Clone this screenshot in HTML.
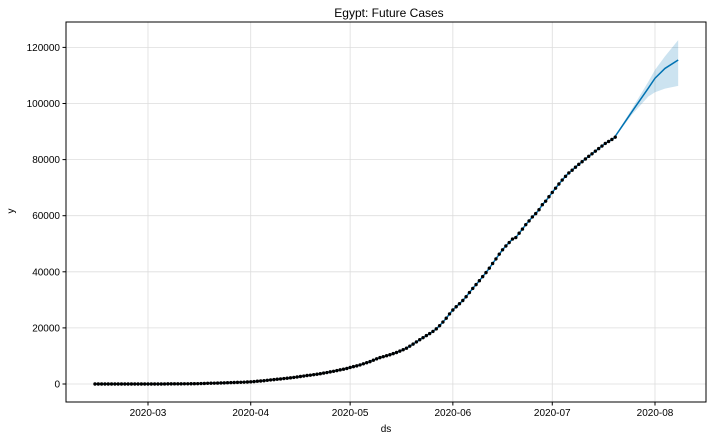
<!DOCTYPE html>
<html><head><meta charset="utf-8"><style>
body{margin:0;background:#fff;}
svg text{font-family:"Liberation Sans",sans-serif;font-size:10px;fill:#000;}
</style></head><body>
<svg id="chart" width="712" height="440">
<text x="389" y="17" text-anchor="middle" style="font-size:12px">Egypt: Future Cases</text>
<g id="grid"></g><g id="band"></g><g id="lines"></g><g id="dots"></g><g id="axes"></g>
<text x="386" y="432" text-anchor="middle">ds</text>
<text x="14" y="211" text-anchor="middle" transform="rotate(-90 14 211)">y</text>
</svg>
<script>
const startDate = "2020-02-14";
const actualCases = [1,1,1,1,1,1,1,1,1,1,1,1,1,1,1,1,
2,2,2,2,3,15,48,49,55,59,60,67,80,93,110,126,166,196,256,285,294,327,366,402,456,495,536,576,609,656,710,
779,865,985,1070,1173,1322,1450,1560,1699,1794,1939,2065,2190,2350,2505,2673,2844,3032,3144,3333,3490,3659,3891,4092,4319,4534,4782,5042,5268,5537,
5895,6193,6465,6813,7201,7588,7981,8476,8964,9400,9746,10093,10431,10829,11228,11719,12229,12764,13484,14229,15003,15786,16513,17265,17967,18756,19666,20793,22082,23449,24985,
26384,27536,28615,29767,31115,32612,34079,35444,36829,38284,39726,41303,42980,44598,46289,47856,49219,50437,51672,52211,53758,55233,56809,58141,59561,60747,62130,63923,65188,66754,
68311,69814,71299,72711,74035,75253,76222,77279,78304,79254,80235,81158,82070,83001,83930,84843,85771,86474,87172,88000];
const forecastDates = ["2020-07-20","2020-07-25","2020-07-30","2020-08-01","2020-08-04","2020-08-08"];
const forecastYhat = [88300,97000,105500,109000,112500,115500];
const forecastUpper = [88600,98000,107800,112000,116800,122600];
const forecastLower = [88000,96000,102500,104000,105300,106300];
const xTickLabels = ["2020-03","2020-04","2020-05","2020-06","2020-07","2020-08"];
const yTicks = [0,20000,40000,60000,80000,100000,120000];

const NS="http://www.w3.org/2000/svg";
const L=66,R=706,T=22,B=402;
const day=86400000, d0=Date.parse("2020-03-01");
const xs=d=>148+(Date.parse(d)-d0)/day*3.3137;
const ys=v=>384-v/20000*56.1;
function mk(tag,attrs,parent){const e=document.createElementNS(NS,tag);for(const k in attrs)e.setAttribute(k,attrs[k]);document.getElementById(parent).appendChild(e);return e;}
const start=Date.parse(startDate);
const dateOf=i=>new Date(start+i*day).toISOString().slice(0,10);

yTicks.forEach(v=>{
  const g=mk('line',{x1:L,x2:R,y1:ys(v),y2:ys(v),stroke:'#ddd','stroke-width':0.8},'grid');
  
  
  const t=mk('line',{x1:L-3.5,x2:L,y1:ys(v),y2:ys(v),stroke:'#000'},'axes');
  
  
  const tx=mk('text',{x:L-6,y:ys(v)+3.5,'text-anchor':'end'},'axes');tx.textContent=v;
  
  
});
xTickLabels.forEach(s=>{
  const x=xs(s+"-01");
  const g=mk('line',{x1:x,x2:x,y1:T,y2:B,stroke:'#ddd','stroke-width':0.8},'grid');
  
  
  const t=mk('line',{x1:x,x2:x,y1:B,y2:B+3.5,stroke:'#000'},'axes');
  
  
  const tx=mk('text',{x:x,y:B+14,'text-anchor':'middle'},'axes');tx.textContent=s;
  
  
});
const frame=mk('rect',{x:L,y:T,width:R-L,height:B-T,fill:'none',stroke:'#000','stroke-width':1},'axes');



let bp=forecastDates.map((d,i)=>xs(d)+','+ys(forecastUpper[i]));
bp=bp.concat(forecastDates.map((d,i)=>xs(d)+','+ys(forecastLower[i])).reverse());
const band=mk('polygon',{points:bp.join(' '),fill:'#0072B2','fill-opacity':0.2,stroke:'none'},'band');



const fitPts=actualCases.map((v,i)=>xs(dateOf(i))+','+ys(v)).concat(forecastDates.map((d,i)=>xs(d)+','+ys(forecastYhat[i])));
const ln=mk('polyline',{points:fitPts.join(' '),fill:'none',stroke:'#0072B2','stroke-width':1.5,'stroke-linejoin':'round'},'lines');



actualCases.forEach((v,i)=>{
  const c=mk('circle',{cx:xs(dateOf(i)),cy:ys(v),r:1.7,fill:'#000'},'dots');
  
  
});
</script>
</body></html>
